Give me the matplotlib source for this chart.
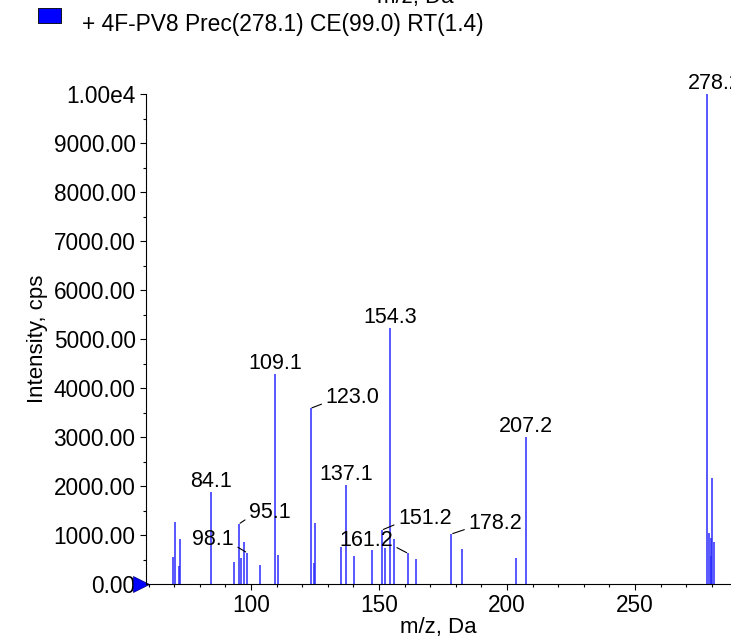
import matplotlib
matplotlib.use('Agg')
import matplotlib.pyplot as plt
from matplotlib.ticker import MultipleLocator, FuncFormatter
from matplotlib.patches import Rectangle
from matplotlib.transforms import offset_copy

plt.rcParams['font.family'] = ['Liberation Sans', 'DejaVu Sans']

# peak list (m/z, intensity in cps)
mz = [69.4, 70.2, 71.8, 72.3, 84.4, 93.4, 95.3, 96.2, 97.3, 98.4, 103.4,
      109.5, 110.7, 123.3, 124.7, 125.2, 135.2, 137.3, 140.3, 147.3,
      151.2, 152.4, 154.4, 155.9, 161.3, 164.4, 178.3, 182.3, 203.4,
      207.3, 278.2, 278.8, 279.5, 279.8, 280.1, 280.8]
intensity = [557, 1272, 367, 912, 1884, 443, 1224, 524, 851, 640, 395,
             4286, 592, 3585, 435, 1252, 762, 2020, 571, 694,
             1102, 735, 5218, 918, 626, 503, 1020, 714, 531,
             3007, 10000, 1034, 932, 571, 2157, 863]

# labelled peaks: (label, m/z, intensity, dx px, dy px, ha, leader)
labels = [
    ('84.1', 84.4, 1884, 0, 5, 'center', False),
    ('109.1', 109.5, 4286, 0, 5, 'center', False),
    ('137.1', 137.3, 2020, 0, 5, 'center', False),
    ('154.3', 154.4, 5218, 0, 5, 'center', False),
    ('207.2', 207.3, 3007, 0, 5, 'center', False),
    ('278.2', 278.2, 10000, 8, 5, 'center', False),
    ('95.1', 95.3, 1224, 10, 12, 'left', True),
    ('98.1', 98.4, 640, -13, 13, 'right', True),
    ('123.0', 123.3, 3585, 15, 11, 'left', True),
    ('151.2', 151.2, 1102, 16, 12, 'left', True),
    ('161.2', 161.3, 626, -15, 13, 'right', True),
    ('178.2', 178.3, 1020, 17, 11, 'left', True),
]

legend_text = '+ 4F-PV8 Prec(278.1) CE(99.0) RT(1.4)'

W, H = 731, 641
fig = plt.figure(figsize=(W / 100, H / 100), dpi=100)
ax = fig.add_axes([146 / W, 1 - 584 / H, 1 - 146 / W, (584 - 94) / H])

ax.vlines(mz, 0, intensity, color='#2a2aff', lw=1.1)
ax.set_xlim(59, 287.5)
ax.set_ylim(0, 10000)

for s in ['top', 'right']:
    ax.spines[s].set_visible(False)
ax.spines['left'].set_linewidth(0.8)
ax.spines['bottom'].set_linewidth(0.8)

ax.xaxis.set_major_locator(MultipleLocator(50))
ax.xaxis.set_minor_locator(MultipleLocator(10))
ax.yaxis.set_major_locator(MultipleLocator(1000))
ax.yaxis.set_minor_locator(MultipleLocator(500))
ax.yaxis.set_major_formatter(FuncFormatter(
    lambda v, p: '1.00e4' if v >= 10000 else '%.2f' % v))
ax.tick_params(which='major', length=4, width=0.8, labelsize=16.3)
ax.tick_params(which='minor', length=2.5, width=0.8)

ax.set_xlabel('m/z, Da', fontsize=16, labelpad=0)
ax.set_ylabel('Intensity, cps', fontsize=16, labelpad=4)

for text, x, y, dx, dy, ha, leader in labels:
    if leader:
        relx = 0 if ha == 'left' else 1
        ax.annotate(text, (x, y), xytext=(dx, dy), textcoords='offset pixels',
                    ha=ha, va='center', fontsize=15.5, annotation_clip=False,
                    arrowprops=dict(arrowstyle='-', lw=0.8, color='black',
                                    relpos=(relx, 0.25), shrinkA=1, shrinkB=1))
    else:
        ax.annotate(text, (x, y), xytext=(dx, dy), textcoords='offset pixels',
                    ha=ha, va='baseline', fontsize=15.5, annotation_clip=False)

# blue start marker on the x axis
tr = offset_copy(ax.transData, fig=fig, x=-5.5, y=0, units='dots')
ax.plot([59], [0], marker='>', color='blue', markersize=11,
        markeredgecolor='#000080', markeredgewidth=0.5,
        transform=tr, clip_on=False)

# legend box and text at the top
fig.patches.append(Rectangle((38 / W, 1 - 23 / H), 23 / W, 15 / H,
                             transform=fig.transFigure, facecolor='blue',
                             edgecolor='black', lw=0.6))
fig.text(82 / W, 1 - 24 / H, legend_text, fontsize=16.4, va='center', ha='left')
# leftover axis title from the panel above, cut off at the top
fig.text(415 / W, 1 - 3 / H, 'm/z, Da', fontsize=16, ha='center', va='baseline')

fig.savefig('out.png', dpi=100)
